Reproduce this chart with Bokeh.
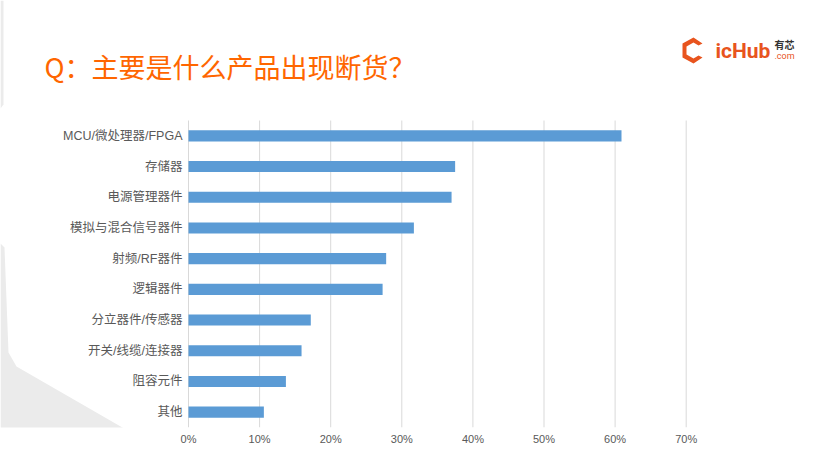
from bokeh.plotting import figure
from bokeh.models import Range1d, NumeralTickFormatter, FixedTicker
from bokeh.core.properties import value
from bokeh.embed import file_html
from bokeh.resources import INLINE

# ---- data ----
categories = ["MCU/微处理器/FPGA", "存储器", "电源管理器件", "模拟与混合信号器件",
              "射频/RF器件", "逻辑器件", "分立器件/传感器", "开关/线缆/连接器",
              "阻容元件", "其他"]
shares = [0.609, 0.375, 0.370, 0.317, 0.278, 0.273, 0.172, 0.159, 0.137, 0.106]
x_ticks = [0.0, 0.1, 0.2, 0.3, 0.4, 0.5, 0.6, 0.7]
title_text = "Q：主要是什么产品出现断货？"

# ---- layout constants (pixels) ----
W, H = 799, 448
FB = 21                 # bottom border for the x axis
X0_PX = 188             # pixel of 0 %
PX_PER_UNIT = 711.0     # pixels per 100 %
ROW_PX = 30.7           # pixels per category row
ROWS_BOTTOM_PX = 427    # pixel of the bottom of the category rows

n = len(categories)
ypos = [n - 1 - i for i in range(n)]   # first category on top


def X(px):
    return (px - X0_PX) / PX_PER_UNIT


def Y(py):
    return -0.5 + (ROWS_BOTTOM_PX - py) / ROW_PX


frame_bottom_px = H - FB
p = figure(width=W, height=H,
           x_range=Range1d(X(0), X(W)),
           y_range=Range1d(Y(frame_bottom_px), Y(0)),
           y_axis_location=None,
           output_backend="svg", toolbar_location=None,
           min_border_left=0, min_border_right=0,
           min_border_top=0, min_border_bottom=FB)

p.outline_line_color = None
p.background_fill_color = "white"
p.border_fill_color = "white"
p.xgrid.visible = False
p.ygrid.visible = False

# ---- decorations (grey background shapes) ----
p.patch([X(0), X(3), X(3), X(0)], [Y(0), Y(0), Y(104), Y(108)],
        fill_color="#EBEBEB", line_color=None)
tri_px = [0, 4, 8, 16, 200, 0]
tri_py = [243, 247, 352, 366, 472, 472]
p.patch([X(v) for v in tri_px], [Y(v) for v in tri_py],
        fill_color="#EBEBEB", line_color=None)

# ---- grid lines (from ticks) ----
p.segment(x0=x_ticks, x1=x_ticks, y0=-0.5, y1=n - 0.5,
          line_color="#D9D9D9", line_width=1)

# ---- bars ----
p.hbar(y=ypos, right=shares, left=0, height=0.36,
       fill_color="#5B9BD5", line_color=None)

# ---- category labels ----
p.text(x=0, y=ypos, text=categories, x_offset=-6,
       text_align="right", text_baseline="middle",
       text_font=value("Liberation Sans, Noto Sans CJK SC"),
       text_font_size=value("12.5px"),
       text_color="#595959")

# ---- x axis ----
p.xaxis.ticker = FixedTicker(ticks=x_ticks)
p.xaxis.formatter = NumeralTickFormatter(format="0%")
p.xaxis.axis_line_color = None
p.xaxis.major_tick_line_color = None
p.xaxis.minor_tick_line_color = None
p.xaxis.major_tick_out = 0
p.xaxis.major_tick_in = 0
p.xaxis.major_label_standoff = 5
p.xaxis.major_label_text_font = "Liberation Sans"
p.xaxis.major_label_text_font_size = "11px"
p.xaxis.major_label_text_color = "#595959"

# ---- title ----
p.text(x=[X(44)], y=[Y(66)], text=[title_text],
       text_align="left", text_baseline="middle",
       text_font=value("Noto Sans CJK SC"), text_font_size=value("27px"),
       text_color="#FF6600")

# ---- logo ----
LOGO_DX = -12
icon_px = [714, 705, 694, 694, 705, 714, 710, 705, 698, 698, 705, 710]
icon_py = [43, 37, 43, 57, 63, 57, 55, 58, 54, 46, 42, 45]
p.patch([X(v + LOGO_DX) for v in icon_px], [Y(v) for v in icon_py],
        fill_color="#E8541E", line_color=None)
p.text(x=[X(727 + LOGO_DX)], y=[Y(50)], text=["icHub"],
       text_align="left", text_baseline="middle",
       text_font=value("Roboto"), text_font_style="bold",
       text_font_size=value("21px"), text_color="#E8541E")
p.text(x=[X(786 + LOGO_DX)], y=[Y(44)], text=["有芯"],
       text_align="left", text_baseline="middle",
       text_font=value("Noto Sans CJK SC"), text_font_style="bold",
       text_font_size=value("10px"), text_color="#333333")
p.text(x=[X(786 + LOGO_DX)], y=[Y(55)], text=[".com"],
       text_align="left", text_baseline="middle",
       text_font=value("Roboto"),
       text_font_size=value("9px"), text_color="#E8541E")

open("out.html", "w").write(file_html(p, INLINE))
